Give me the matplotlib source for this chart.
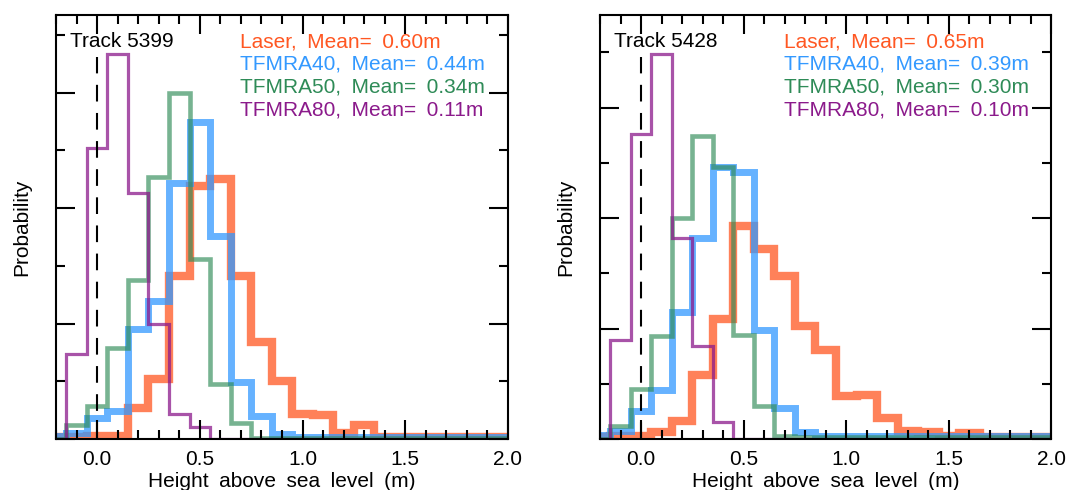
import numpy as np
import matplotlib
matplotlib.use("Agg")
import matplotlib.pyplot as plt
from matplotlib.ticker import MultipleLocator, NullFormatter, FormatStrFormatter

plt.rcParams['font.family'] = ['Liberation Sans', 'DejaVu Sans']

# histogram bins: 0.1 m wide, centred on -0.2 ... 2.0 m
edges = np.arange(-0.25, 2.06, 0.1)

series_names = ["Laser", "TFMRA40", "TFMRA50", "TFMRA80"]
text_colors = ["#FF5722", "#3399FF", "#2E8B57", "#8B1A8B"]
line_alpha = [0.75, 0.75, 0.65, 0.75]
line_widths = [6.0, 5.0, 3.3, 2.3]

# track 5399
laser_5399 = [0.0015, 0.002, 0.003, 0.003, 0.027, 0.052, 0.141, 0.219, 0.225, 0.141, 0.084, 0.050,
              0.022, 0.021, 0.005, 0.012, 0.002, 0.0015, 0.0015, 0.0015, 0.0015, 0.0015, 0.0015]
tfmra40_5399 = [0.003, 0.005, 0.018, 0.024, 0.095, 0.120, 0.222, 0.275, 0.176, 0.049, 0.020, 0.004,
                0.0015, 0.0015, 0.0015, 0.0015, 0.0015, 0.0015, 0.0015, 0.0015, 0.0015, 0.0015, 0.0015]
tfmra50_5399 = [0.0, 0.012, 0.029, 0.079, 0.138, 0.227, 0.300, 0.156, 0.048, 0.014, 0.0005, 0.0005,
                0.0005, 0.0005, 0.0005, 0.0005, 0.0005, 0.0005, 0.0005, 0.0005, 0.0005, 0.0005, 0.0005]
tfmra80_5399 = [0.0, 0.074, 0.252, 0.334, 0.213, 0.100, 0.022, 0.010, 0.0, 0.0, 0.0, 0.0,
                0.0, 0.0, 0.0, 0.0, 0.0, 0.0, 0.0, 0.0, 0.0, 0.0, 0.0]
means_5399 = ["0.60", "0.44", "0.34", "0.11"]

# track 5428
laser_5428 = [0.002, 0.0025, 0.0025, 0.006, 0.016, 0.058, 0.109, 0.193, 0.172, 0.148, 0.102, 0.081,
              0.039, 0.040, 0.019, 0.007, 0.006, 0.0025, 0.005, 0.002, 0.002, 0.002, 0.002]
tfmra40_5428 = [0.004, 0.007, 0.025, 0.044, 0.115, 0.182, 0.246, 0.242, 0.099, 0.028, 0.006, 0.0025,
                0.0025, 0.0025, 0.0025, 0.0025, 0.0025, 0.0025, 0.0025, 0.0025, 0.0025, 0.0025, 0.0025]
tfmra50_5428 = [0.0, 0.012, 0.045, 0.093, 0.200, 0.274, 0.246, 0.094, 0.030, 0.003, 0.002, 0.002,
                0.002, 0.002, 0.002, 0.002, 0.002, 0.002, 0.002, 0.002, 0.002, 0.002, 0.002]
tfmra80_5428 = [0.0, 0.090, 0.276, 0.349, 0.182, 0.084, 0.015, 0.0, 0.0, 0.0, 0.0, 0.0,
                0.0, 0.0, 0.0, 0.0, 0.0, 0.0, 0.0, 0.0, 0.0, 0.0, 0.0]
means_5428 = ["0.65", "0.39", "0.30", "0.10"]

tracks = [
    ("Track 5399", [laser_5399, tfmra40_5399, tfmra50_5399, tfmra80_5399], means_5399),
    ("Track 5428", [laser_5428, tfmra40_5428, tfmra50_5428, tfmra80_5428], means_5428),
]

SP = "\u2002"  # wide word gap

fig = plt.figure(figsize=(10.69, 4.9), dpi=100)
axes = [fig.add_axes([0.0524, 0.1041, 0.4228, 0.8653]),
        fig.add_axes([0.5613, 0.1041, 0.4223, 0.8653])]

for ax, (title, hists, means) in zip(axes, tracks):
    ymax = 1.1 * max(max(h) for h in hists)
    for h, col, a, lw in zip(hists, text_colors, line_alpha, line_widths):
        ax.stairs(h, edges, baseline=0, color=col, alpha=a, linewidth=lw, joinstyle='miter')
    ax.axvline(0.0, ymin=0, ymax=0.9, color='k', lw=1.5, dashes=(8, 5.5))

    ax.set_xlim(-0.2, 2.0)
    ax.set_ylim(0, ymax)
    ax.xaxis.set_major_locator(MultipleLocator(0.5))
    ax.xaxis.set_minor_locator(MultipleLocator(0.1))
    ax.xaxis.set_major_formatter(FormatStrFormatter('%.1f'))
    ax.yaxis.set_major_locator(MultipleLocator(0.1))
    ax.yaxis.set_minor_locator(MultipleLocator(0.05))
    ax.yaxis.set_major_formatter(NullFormatter())
    ax.tick_params(which='both', direction='in', top=True, right=True, width=1.5,
                   labelsize=15, pad=8)
    ax.tick_params(which='major', length=13.5)
    ax.tick_params(which='minor', length=6.5)
    for sp in ax.spines.values():
        sp.set_linewidth(1.5)

    ax.set_xlabel(SP.join("Height above sea level (m)".split()), fontsize=15, labelpad=2)
    ax.set_ylabel("Probability", fontsize=15, labelpad=10)

    ax.text(0.031, 0.9245, title, transform=ax.transAxes, fontsize=15,
            color='k', va='baseline', ha='left')
    for i, (name, m, col) in enumerate(zip(series_names, means, text_colors)):
        ax.text(0.407, 0.9245 - i * 0.0542, f"{name},{SP}Mean={SP}{m}m", transform=ax.transAxes,
                fontsize=15, color=col, va='baseline', ha='left')

fig.savefig("out.png", dpi=100)
